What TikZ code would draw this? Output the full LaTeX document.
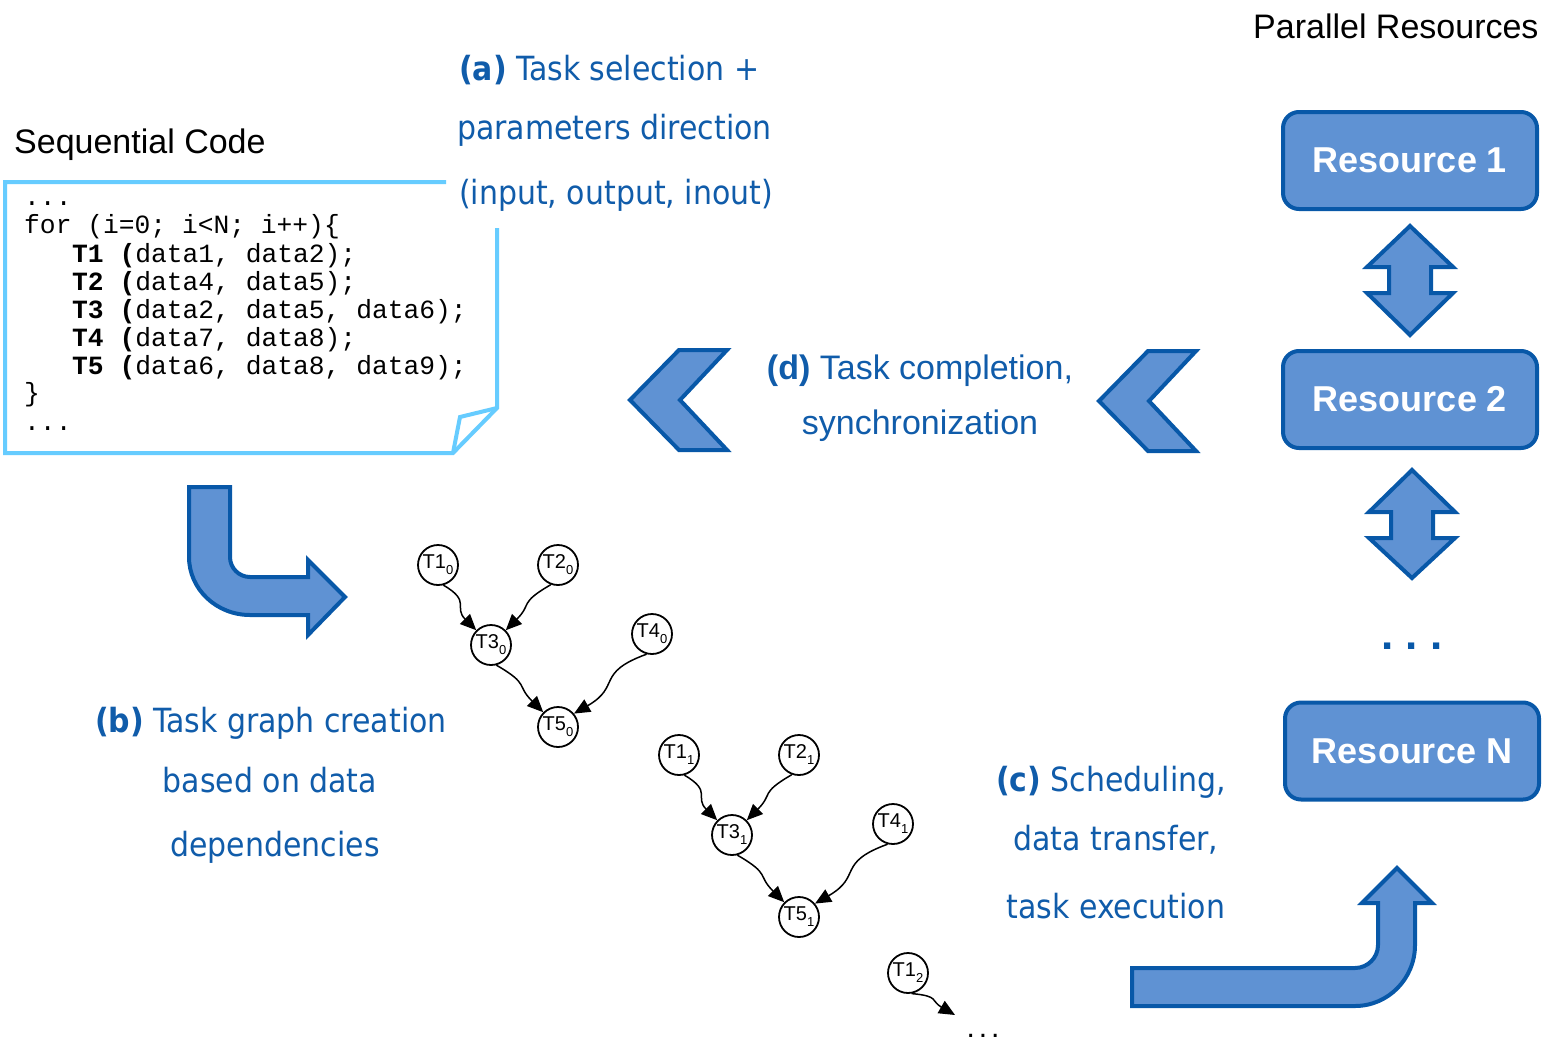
\documentclass[tikz,border=0pt]{standalone}
\usepackage{fontspec}
\setmainfont{Liberation Sans}
\newfontfamily\labelfont{DejaVu Sans Condensed}
\newfontfamily\codefont{Liberation Mono}
\usetikzlibrary{arrows.meta}

\definecolor{resfill}{RGB}{95,146,211}
\definecolor{resedge}{RGB}{8,88,168}
\definecolor{labelblue}{RGB}{16,92,170}
\definecolor{notecyan}{RGB}{102,204,255}

% subscript index of a task instance
\newcommand{\tidx}[1]{\raisebox{-6pt}{\fontsize{13}{13}\selectfont #1}}

\begin{document}
\begin{tikzpicture}[x=1pt,y=1pt,
  resbox/.style={draw=resedge, fill=resfill, line width=4pt, rounded corners=16pt,
    minimum width=254pt, minimum height=97pt, inner sep=0pt, text=white,
    font=\fontsize{36}{40}\selectfont\bfseries},
  bigarrow/.style={draw=resedge, fill=resfill, line width=4pt, line join=miter},
  codeline/.style={anchor=base west, inner sep=0pt, font=\codefont\fontsize{26.3}{28}\selectfont},
  steplabel/.style={inner sep=0pt, text=labelblue, font=\labelfont\fontsize{33.3}{36}\selectfont},
  steplabelsans/.style={inner sep=0pt, text=labelblue, font=\fontsize{34}{38}\selectfont},
  heading/.style={anchor=base west, inner sep=0pt, font=\fontsize{34}{38}\selectfont},
  task/.style={draw, circle, line width=1.8pt, minimum size=40pt, inner sep=0pt,
    fill=white, font=\fontsize{20}{20}\selectfont},
  dep/.style={-{Triangle[length=16pt,width=14pt]}, line width=1.5pt, looseness=1.5}
]
% canvas
\path[use as bounding box, fill=white] (0,0) rectangle (1546,-1041);

% headings
\node[heading] (seqtitle) at (14,-153) {Sequential Code};
\node[heading] (partitle) at (1253,-38) {Parallel Resources};

% code note with folded corner
\draw[notecyan, line width=4pt, line join=miter]
  (446,-182) -- (5,-182) -- (5,-453) -- (453,-453) -- (497,-408) -- (497,-228);
\draw[notecyan, line width=4pt, line join=miter]
  (497,-408) -- (460,-417) -- (453,-453);

\node[codeline] (cl1) at (24,-205) {...};
\node[codeline] (cl2) at (24,-233) {for (i=0; i<N; i++)\{};
\node[codeline] (cl3) at (72,-262) {\textbf{T1 (}data1, data2);};
\node[codeline] (cl4) at (72,-290) {\textbf{T2 (}data4, data5);};
\node[codeline] (cl5) at (72,-318) {\textbf{T3 (}data2, data5, data6);};
\node[codeline] (cl6) at (72,-346) {\textbf{T4 (}data7, data8);};
\node[codeline] (cl7) at (72,-374) {\textbf{T5 (}data6, data8, data9);};
\node[codeline] (cl8) at (24,-401) {\}};
\node[codeline] (cl9) at (24,-430) {...};

% step (a)
\node[steplabel, anchor=base west] (la1) at (459,-81) {\textbf{(a)} Task selection +};
\node[steplabel, anchor=base west] (la2) at (457,-139) {parameters direction};
\node[steplabel, anchor=base west] (la3) at (459,-204) {(input, output, inout)};

% step (b)
\node[steplabel, anchor=base] (lb1) at (271,-732) {\textbf{(b)} Task graph creation};
\node[steplabel, anchor=base] (lb2) at (270,-792) {based on data};
\node[steplabel, anchor=base] (lb3) at (275,-856) {dependencies};

% step (c)
\node[steplabel, anchor=base] (lc1) at (1111,-791) {\textbf{(c)} Scheduling,};
\node[steplabel, anchor=base] (lc2) at (1116,-850) {data transfer,};
\node[steplabel, anchor=base] (lc3) at (1116,-918) {task execution};

% step (d)
\node[steplabelsans, anchor=base] (ld1) at (920,-379) {\textbf{(d)} Task completion,};
\node[steplabelsans, anchor=base] (ld2) at (920,-434) {synchronization};

% resources
\node[resbox] (r1) at (1410,-160.5) {Resource 1};
\node[resbox] (r2) at (1410,-399.5) {Resource 2};
\node[resbox] (rn) at (1412,-751) {Resource N};
\node[anchor=base, inner sep=0pt, text=resedge, font=\fontsize{44}{44}\selectfont\bfseries]
  (rdots) at (1412,-649) {.\hspace{12.5pt}.\hspace{12.5pt}.};

% double arrows between resources
\draw[bigarrow] (1410,-226) -- (1453,-267) -- (1431,-267) -- (1431,-293) -- (1453,-293)
  -- (1410,-335) -- (1367,-293) -- (1389,-293) -- (1389,-267) -- (1367,-267) -- cycle;
\draw[bigarrow] (1412,-470) -- (1455,-512) -- (1433,-512) -- (1433,-538) -- (1455,-538)
  -- (1412,-578) -- (1369,-538) -- (1391,-538) -- (1391,-512) -- (1369,-512) -- cycle;

% chevrons for completion feedback
\draw[bigarrow] (630,-400) -- (679,-350) -- (727,-350) -- (680,-400) -- (727,-450) -- (679,-450) -- cycle;
\draw[bigarrow] (1099,-401) -- (1148,-351) -- (1196,-351) -- (1149,-401) -- (1196,-451) -- (1148,-451) -- cycle;

% bent arrow: code to task graph
\draw[bigarrow] (189,-487) -- (230,-487) -- (230,-557)
  arc[start angle=180, end angle=270, radius=20] -- (308,-577) -- (308,-560)
  -- (345,-597) -- (308,-635) -- (308,-615) -- (250,-615)
  arc[start angle=270, end angle=180, x radius=61, y radius=58] -- cycle;

% bent arrow: task graph to resources
\draw[bigarrow] (1132,-968) -- (1355,-968)
  arc[start angle=270, end angle=360, radius=23] -- (1378,-903) -- (1362,-903)
  -- (1397,-868) -- (1432,-903) -- (1415,-903) -- (1415,-945)
  arc[start angle=0, end angle=-90, x radius=60, y radius=61] -- (1132,-1006) -- cycle;

% task graph, iteration 0
\node[task] (g0t1) at (438,-565) {T1\tidx{0}};
\node[task] (g0t2) at (558,-565) {T2\tidx{0}};
\node[task] (g0t3) at (491,-645) {T3\tidx{0}};
\node[task] (g0t4) at (652,-634) {T4\tidx{0}};
\node[task] (g0t5) at (558,-727) {T5\tidx{0}};
\draw[dep] (g0t1.-75) to[out=-30, in=135] (g0t3.135);
\draw[dep] (g0t2.-110) to[out=210, in=45] (g0t3.45);
\draw[dep] (g0t3.-75) to[out=-30, in=135] (g0t5.135);
\draw[dep] (g0t4.-105) to[out=200, in=30] (g0t5.40);

% task graph, iteration 1
\node[task] (g1t1) at (679,-755) {T1\tidx{1}};
\node[task] (g1t2) at (799,-755) {T2\tidx{1}};
\node[task] (g1t3) at (732,-835) {T3\tidx{1}};
\node[task] (g1t4) at (893,-824) {T4\tidx{1}};
\node[task] (g1t5) at (799,-917) {T5\tidx{1}};
\draw[dep] (g1t1.-75) to[out=-30, in=135] (g1t3.135);
\draw[dep] (g1t2.-110) to[out=210, in=45] (g1t3.45);
\draw[dep] (g1t3.-75) to[out=-30, in=135] (g1t5.135);
\draw[dep] (g1t4.-105) to[out=200, in=30] (g1t5.40);

% task graph, iteration 2 (continues)
\node[task] (g2t1) at (908,-973) {T1\tidx{2}};
\coordinate (g2next) at (955,-1015);
\draw[dep] (g2t1.-80) to[out=-5, in=150] (g2next);
\node[anchor=base, inner sep=0pt, font=\fontsize{30}{30}\selectfont]
  (moredots) at (983,-1037) {.\hspace{4pt}.\hspace{4pt}.};
\end{tikzpicture}
\end{document}
